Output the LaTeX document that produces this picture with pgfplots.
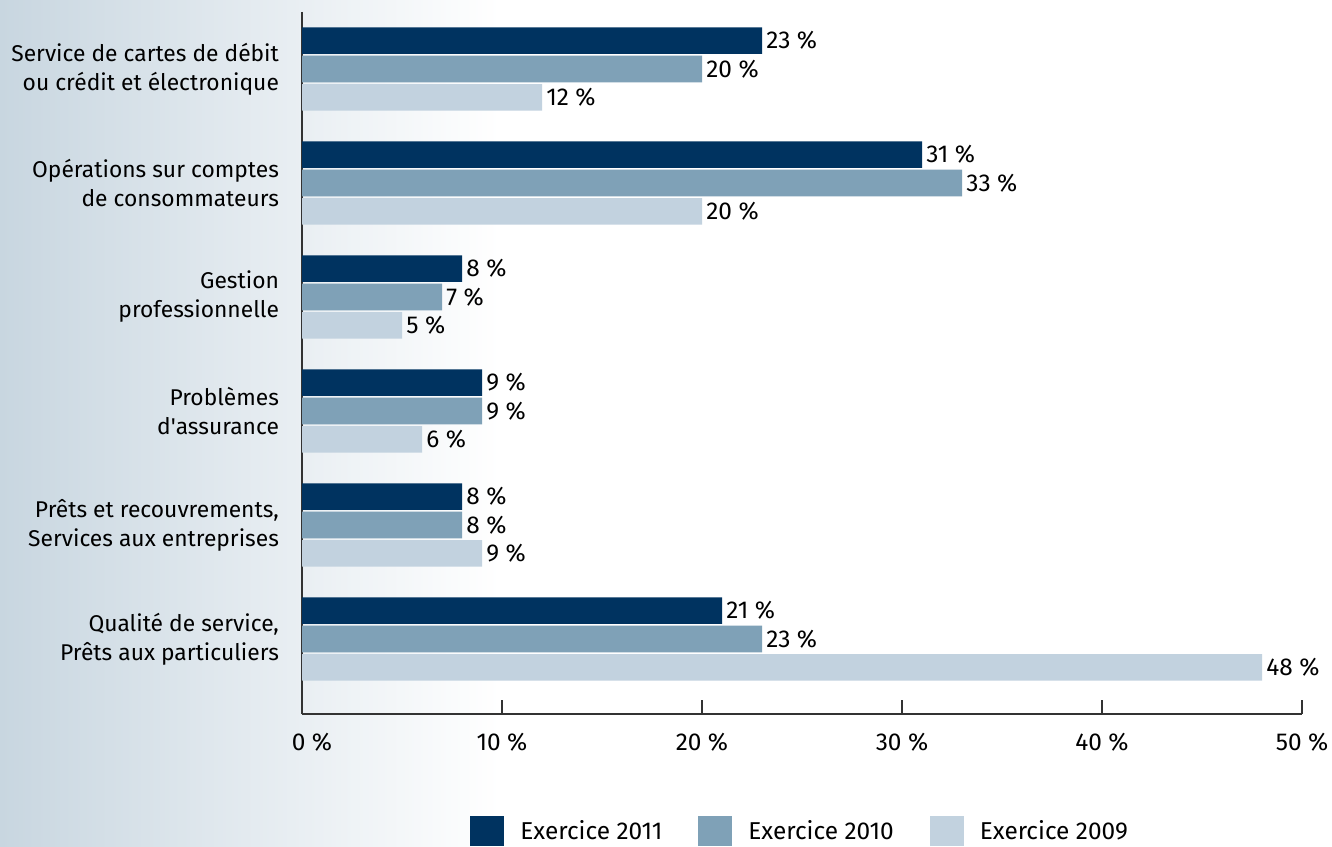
\documentclass[border=0pt]{standalone}
\usepackage{pgfplots}
\pgfplotsset{compat=1.18}
\usepackage{fontspec}
\setmainfont{Fira Sans}
\definecolor{c11}{HTML}{003360}
\definecolor{c10}{HTML}{7FA1B7}
\definecolor{c09}{HTML}{C2D2DF}
\definecolor{bgl}{HTML}{C8D6E0}
\definecolor{axc}{HTML}{333333}
\begin{document}
\begin{tikzpicture}[font=\fontsize{11.4}{14.5}\selectfont]
\shade[left color=bgl, right color=white] (0,0) rectangle (250pt,423pt);
\fill[white] (250pt,0) rectangle (666pt,423pt);
\begin{axis}[
  at={(151pt,66pt)}, anchor=south west,
  scale only axis, width=500pt, height=351pt,
  xbar, xmin=0, xmax=50, ymin=-0.5, ymax=5.658, y dir=reverse,
  axis x line*=bottom, axis y line*=left,
  axis line style={-, draw=axc, line width=1pt},
  /pgf/number format/assume math mode=true,
  xtick={0,10,...,50},
  xticklabels={{\hspace{10pt}0~\%},10~\%,20~\%,30~\%,40~\%,50~\%},
  xticklabel style={yshift=-6pt, font=\fontsize{12.2}{14.5}\selectfont},
  ytick={0,...,5},
  yticklabels={{Service de cartes de débit\\ou crédit et électronique},
    {Opérations sur comptes\\de consommateurs},
    {Gestion\\professionnelle},
    {Problèmes\\d\textquotesingle assurance},
    {Prêts et recouvrements,\\Services aux entreprises},
    {Qualité de service,\\Prêts aux particuliers}},
  yticklabel style={align=right, xshift=-8pt},
  y tick style={draw=none},
  x tick style={draw=axc, line width=1pt},
  tick align=inside, major tick length=7pt,
  bar width=13.3pt,
  nodes near coords={\pgfmathprintnumber{\pgfplotspointmeta}~\%},
  nodes near coords style={anchor=west, inner sep=2pt, black, font=\fontsize{12.2}{14.5}\selectfont},
  legend columns=3,
  legend style={draw=none, fill=none, inner sep=0pt,
    at={(0.168,-0.1667)}, anchor=west, font=\fontsize{12.2}{14.5}\selectfont,
    /tikz/every odd column/.append style={column sep=6pt},
    /tikz/every even column/.append style={column sep=16pt}},
  legend image code/.code={\fill[#1] (0pt,-7.5pt) rectangle (17pt,7.5pt);},
]
\addplot[fill=c11, draw=none, bar shift=14.2pt] coordinates {(23,0) (31,1) (8,2) (9,3) (8,4) (21,5)};
\addplot[fill=c10, draw=none, bar shift=0pt] coordinates {(20,0) (33,1) (7,2) (9,3) (8,4) (23,5)};
\addplot[fill=c09, draw=none, bar shift=-14.2pt] coordinates {(12,0) (20,1) (5,2) (6,3) (9,4) (48,5)};
\legend{Exercice 2011, Exercice 2010, Exercice 2009}
\end{axis}
\pgfresetboundingbox
\useasboundingbox (0,0) rectangle (666pt,423pt);
\end{tikzpicture}
\end{document}
